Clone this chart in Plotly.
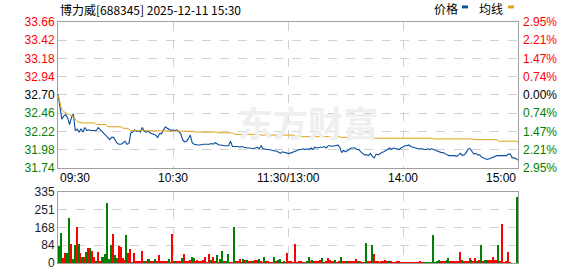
import plotly.graph_objects as go

# minutes from 09:30 (11:30 and 13:00 share minute 120)
minutes = list(range(241))

price = [
    32.71, 32.57, 32.38, 32.42, 32.44, 32.40, 32.31, 32.40, 32.45, 32.23,
    32.25, 32.21, 32.25, 32.21, 32.27, 32.23, 32.24, 32.23, 32.23, 32.23,
    32.23, 32.27, 32.25, 32.22, 32.19, 32.17, 32.14, 32.11, 32.14, 32.14,
    32.09, 32.06, 32.05, 32.05, 32.07, 32.09, 32.05, 32.06, 32.20, 32.21,
    32.24, 32.22, 32.23, 32.21, 32.27, 32.22, 32.21, 32.22, 32.20, 32.19,
    32.19, 32.17, 32.14, 32.19, 32.19, 32.23, 32.28, 32.26, 32.25, 32.23,
    32.24, 32.23, 32.24, 32.22, 32.19, 32.11, 32.08, 32.09, 32.12, 32.17,
    32.07, 32.05, 32.04, 32.04, 32.04, 32.05, 32.05, 32.05, 32.05, 32.05,
    32.06, 32.05, 32.07, 32.05, 32.04, 32.04, 32.03, 32.03, 32.03, 32.03,
    32.09, 32.02, 32.02, 32.02, 32.02, 32.01, 32.02, 32.01, 32.00, 32.00,
    32.00, 31.99, 31.99, 32.00, 32.01, 31.99, 32.03, 31.99, 31.98, 31.98,
    31.98, 31.97, 31.97, 31.96, 31.96, 31.95, 31.93, 31.95, 31.94, 31.93,
    31.93, 31.93, 31.94, 31.95, 31.96, 31.98, 31.98, 31.98, 31.99, 31.98,
    31.99, 31.98, 32.00, 31.98, 32.01, 32.00, 32.01, 32.01, 32.01, 32.02,
    32.00, 32.03, 32.03, 32.02, 32.03, 32.03, 32.04, 32.01, 31.94, 31.97,
    31.95, 31.97, 31.98, 32.00, 32.00, 32.00, 31.98, 31.98, 31.95, 31.93,
    31.91, 31.91, 31.90, 31.93, 31.89, 31.87, 31.92, 31.91, 31.93, 31.94,
    31.95, 31.96, 31.98, 32.00, 31.98, 32.00, 31.99, 31.99, 31.98, 32.00,
    32.02, 32.03, 32.03, 32.04, 32.02, 32.01, 32.01, 31.99, 31.99, 31.99,
    31.99, 31.98, 31.98, 31.99, 31.98, 31.99, 31.98, 31.96, 31.95, 31.94,
    31.94, 31.94, 31.92, 31.91, 31.90, 31.90, 31.90, 31.90, 31.89, 31.91,
    31.93, 31.90, 31.91, 31.94, 31.99, 31.99, 31.95, 31.92, 31.93, 31.91,
    31.91, 31.88, 31.87, 31.86, 31.85, 31.86, 31.87, 31.88, 31.90, 31.90,
    31.90, 31.90, 31.90, 31.90, 31.90, 31.92, 31.92, 31.87, 31.87, 31.86,
    31.84,
]

avg_price = [
    32.70, 32.60, 32.50, 32.48, 32.46, 32.45, 32.44, 32.43, 32.42, 32.38,
    32.35, 32.34, 32.33, 32.33, 32.33, 32.33, 32.33, 32.33, 32.33, 32.33,
    32.31, 32.31, 32.31, 32.31, 32.31, 32.31, 32.28, 32.28, 32.28, 32.28,
    32.28, 32.28, 32.28, 32.28, 32.26, 32.26, 32.26, 32.25, 32.23, 32.23,
    32.23, 32.23, 32.23, 32.23, 32.23, 32.23, 32.23, 32.23, 32.23, 32.23,
    32.23, 32.22, 32.22, 32.22, 32.22, 32.22, 32.22, 32.22, 32.22, 32.22,
    32.22, 32.22, 32.22, 32.22, 32.22, 32.22, 32.22, 32.22, 32.22, 32.22,
    32.22, 32.22, 32.21, 32.21, 32.21, 32.21, 32.21, 32.21, 32.21, 32.21,
    32.21, 32.21, 32.21, 32.21, 32.20, 32.20, 32.20, 32.20, 32.20, 32.20,
    32.20, 32.20, 32.18, 32.18, 32.18, 32.18, 32.18, 32.18, 32.18, 32.18,
    32.18, 32.18, 32.18, 32.18, 32.18, 32.18, 32.17, 32.17, 32.17, 32.17,
    32.17, 32.17, 32.17, 32.17, 32.17, 32.17, 32.17, 32.17, 32.17, 32.17,
    32.17, 32.17, 32.17, 32.17, 32.15, 32.15, 32.15, 32.15, 32.15, 32.15,
    32.15, 32.15, 32.15, 32.15, 32.15, 32.15, 32.15, 32.15, 32.15, 32.15,
    32.15, 32.15, 32.15, 32.15, 32.15, 32.15, 32.15, 32.15, 32.14, 32.14,
    32.14, 32.14, 32.14, 32.14, 32.14, 32.14, 32.14, 32.14, 32.14, 32.14,
    32.14, 32.14, 32.14, 32.14, 32.14, 32.13, 32.13, 32.13, 32.13, 32.13,
    32.13, 32.13, 32.13, 32.13, 32.13, 32.13, 32.13, 32.13, 32.13, 32.13,
    32.13, 32.13, 32.13, 32.13, 32.13, 32.13, 32.13, 32.13, 32.13, 32.13,
    32.13, 32.13, 32.13, 32.13, 32.13, 32.13, 32.12, 32.12, 32.12, 32.12,
    32.12, 32.12, 32.12, 32.12, 32.12, 32.12, 32.12, 32.12, 32.12, 32.12,
    32.12, 32.12, 32.12, 32.12, 32.12, 32.12, 32.12, 32.11, 32.11, 32.11,
    32.11, 32.11, 32.11, 32.11, 32.11, 32.11, 32.11, 32.11, 32.11, 32.11,
    32.09, 32.09, 32.09, 32.09, 32.09, 32.09, 32.09, 32.09, 32.09, 32.09,
    32.08,
]

volume = [
    0, 79, 142, 23, 46, 46, 210, 91, 18, 87,
    171, 91, 46, 27, 27, 50, 69, 69, 58, 27,
    8, 50, 11, 27, 27, 41, 283, 20, 85, 137,
    37, 23, 79, 73, 23, 12, 133, 46, 64, 3,
    49, 6, 6, 6, 58, 9, 6, 18, 18, 6,
    9, 18, 6, 37, 6, 6, 6, 6, 18, 3,
    139, 6, 9, 6, 6, 23, 41, 6, 6, 15,
    26, 21, 9, 12, 6, 6, 15, 27, 3, 41,
    12, 26, 6, 37, 3, 18, 58, 9, 9, 41,
    3, 3, 172, 9, 9, 18, 3, 18, 12, 15,
    6, 6, 9, 12, 15, 18, 6, 3, 27, 6,
    6, 3, 3, 27, 6, 15, 18, 3, 6, 3,
    46, 6, 6, 3, 88, 3, 6, 6, 3, 3,
    6, 27, 6, 14, 6, 6, 6, 14, 23, 3,
    6, 23, 15, 6, 6, 14, 3, 6, 27, 9,
    6, 6, 6, 6, 6, 6, 18, 9, 6, 3,
    3, 92, 9, 6, 87, 44, 6, 6, 3, 6,
    6, 14, 9, 6, 6, 3, 3, 6, 9, 3,
    3, 3, 3, 3, 3, 3, 3, 3, 3, 11,
    3, 3, 3, 3, 3, 3, 130, 3, 6, 12,
    9, 9, 6, 15, 24, 6, 6, 6, 6, 6,
    52, 15, 6, 6, 6, 24, 12, 6, 24, 6,
    12, 87, 9, 12, 12, 12, 15, 30, 12, 12,
    85, 9, 185, 3, 9, 52, 3, 0, 0, 0,
    310,
]

# 'R' = up minute (red), 'G' = down minute (green), ten minutes per row
direction_rows = [
    "GGGRRGGRGG", "RGRGRGRGRR", "GRRGGGGGGR", "GGRRRRGRRG",
    "RRRRRGRRGR", "RGRRRRRRGR", "RGRRRGRRRR", "GGRRRRRRRR",
    "GRRGRGGRGG", "RRGRRRRGRG", "RRGRRGRRGR", "RRRGRGGRGR",
    "RRRRRRRRRR", "GGRGRRRRGR", "RRRRRGRRGR", "RGRRRRRGRR",
    "GGRRGRRRRR", "RRRGRRRRRR", "RRRRRRRRRR", "RGGGGGGGGG",
    "RRRGGRRRRR", "RGRRRRGRRG", "RGRGGRRRRR", "GRRRRRRRRR",
    "G",
]
direction = list("".join(direction_rows))

y_ticks = [33.66, 33.42, 33.18, 32.94, 32.70, 32.46, 32.22, 31.98, 31.74]
pct_labels = ["2.95%", "2.21%", "1.47%", "0.74%", "0.00%", "0.74%", "1.47%", "2.21%", "2.95%"]
vol_ticks = [0, 84, 168, 251, 335]
x_ticks = [0, 60, 120, 180, 240]
x_tick_labels = ["09:30", "10:30", "11:30/13:00", "14:00", "15:00"]

RED = "#ff0000"
GREEN = "#008000"
BLACK = "#000000"


def tick_color(i):
    if i < 4:
        return RED
    if i == 4:
        return BLACK
    return GREEN


left_text = [f"<span style='color:{tick_color(i)}'>{v:.2f}</span>" for i, v in enumerate(y_ticks)]
right_text = [f"<span style='color:{tick_color(i)}'>{t}</span>" for i, t in enumerate(pct_labels)]

W, H = 578, 276
ML, MR, MT, MB = 58, 60, 22, 6
PW = W - ML - MR
PH = H - MT - MB


def px_x(px):
    return (px - ML) / PW


def px_y(py):
    return (H - MB - py) / PH


bar_colors = [RED if d == "R" else GREEN for d in direction]

fig = go.Figure()

fig.add_trace(go.Scatter(x=minutes, y=avg_price, mode="lines",
                         line=dict(color="#dfa316", width=1), xaxis="x", yaxis="y3",
                         hoverinfo="skip"))
fig.add_trace(go.Scatter(x=minutes, y=price, mode="lines",
                         line=dict(color="#0a4f9e", width=1.1), xaxis="x", yaxis="y",
                         hoverinfo="skip"))
fig.add_trace(go.Bar(x=minutes, y=volume,
                     marker=dict(color=bar_colors, line=dict(width=0)),
                     width=0.55, offset=-0.55, xaxis="x2", yaxis="y2", hoverinfo="skip"))

grid = dict(showgrid=True, gridcolor="#d2d2d2", griddash="dash", gridwidth=1)
frame = dict(showline=True, linecolor="#a0a0a0", linewidth=1, mirror=True, zeroline=False)
tfont = dict(family="Liberation Sans, Arial", size=12)

fig.update_layout(
    width=W, height=H, autosize=False,
    margin=dict(l=ML, r=MR, t=MT, b=MB, pad=0),
    paper_bgcolor="white", plot_bgcolor="white",
    showlegend=False, bargap=0,
    xaxis=dict(domain=[0, 1], range=[0, 240], anchor="y", tickvals=[60, 120, 180],
               showticklabels=False, ticks="", **grid, **frame),
    yaxis=dict(domain=[px_y(172), 1], range=[31.74, 33.66], anchor="x",
               tickvals=y_ticks, ticktext=left_text, ticks="", tickfont=tfont, **grid, **frame),
    yaxis3=dict(overlaying="y", side="right", range=[31.74, 33.66], anchor="x",
                tickvals=y_ticks, ticktext=right_text, ticks="", tickfont=tfont,
                ticklabelstandoff=4,
                showgrid=False, zeroline=False, showline=False),
    xaxis2=dict(domain=[0, 1], range=[0, 240], anchor="y2", tickvals=[60, 120, 180],
                showticklabels=False, ticks="", **grid, **frame),
    yaxis2=dict(domain=[0, px_y(197)], range=[0, 335], anchor="x2",
                tickvals=vol_ticks, ticks="",
                tickfont=dict(family="Liberation Sans, Arial", size=12, color="#1a1a2a"),
                **grid, **frame),
)

annotations = []
# watermark
annotations.append(dict(x=px_x(308), y=px_y(96), xref="paper", yref="paper",
                        text="<b>东方财富</b>", showarrow=False,
                        font=dict(family="Noto Sans CJK SC", size=35, color="#efeff1")))
# title
annotations.append(dict(x=px_x(58), y=px_y(9), xref="paper", yref="paper", xanchor="left",
                        yanchor="middle", text="博力威[688345] 2025-12-11 15:30", showarrow=False,
                        font=dict(family="Noto Sans CJK SC, Liberation Sans", size=12, color="#000")))
# legend texts
annotations.append(dict(x=px_x(432), y=px_y(8), xref="paper", yref="paper", xanchor="left",
                        yanchor="middle", text="价格", showarrow=False,
                        font=dict(family="Noto Sans CJK SC", size=12, color="#000")))
annotations.append(dict(x=px_x(477), y=px_y(8), xref="paper", yref="paper", xanchor="left",
                        yanchor="middle", text="均线", showarrow=False,
                        font=dict(family="Noto Sans CJK SC", size=12, color="#000")))
# x tick labels
anchors = ["left", "center", "center", "center", "right"]
for xv, lab, anc in zip(x_ticks, x_tick_labels, anchors):
    annotations.append(dict(x=xv, y=px_y(183), xref="x", yref="paper", xanchor=anc,
                            yanchor="middle", text=lab, showarrow=False,
                            font=dict(family="Liberation Sans, Arial", size=12, color="#000")))
fig.update_layout(annotations=annotations)

shapes = [
    dict(type="rect", xref="paper", yref="paper", x0=px_x(462), x1=px_x(468), y0=px_y(8), y1=px_y(5),
         fillcolor="#0a4f9e", line=dict(width=0)),
    dict(type="rect", xref="paper", yref="paper", x0=px_x(508), x1=px_x(514), y0=px_y(8), y1=px_y(5),
         fillcolor="#dfa316", line=dict(width=0)),
]
fig.update_layout(shapes=shapes)

fig.write_html("out.html")
